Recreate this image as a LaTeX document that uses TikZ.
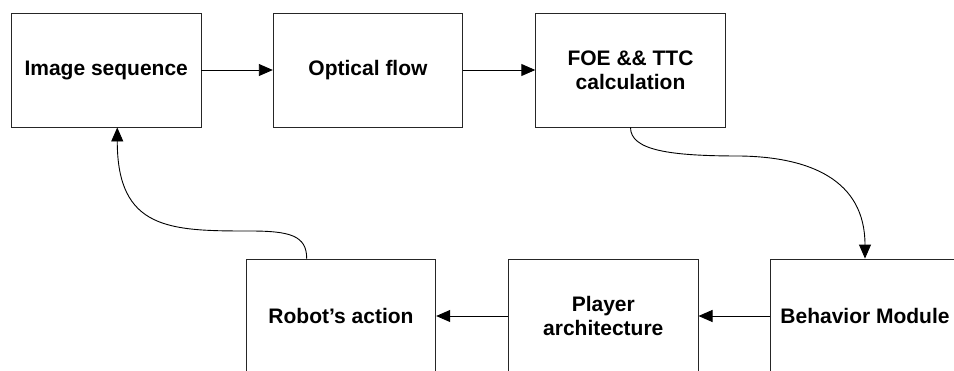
\documentclass[tikz,border=0pt]{standalone}
\usepackage{fontspec}
\setmainfont{Liberation Sans}
\usetikzlibrary{arrows.meta,calc}
\begin{document}
\begin{tikzpicture}[x=1pt,y=-1pt,
  stage/.style={draw=black!85, line width=0.9pt, minimum width=189.5pt,
    minimum height=114pt, inner sep=0pt, align=center,
    font=\fontsize{21}{24}\selectfont\bfseries},
  flow/.style={draw=black, line width=0.9pt,
    -{Triangle[length=14pt,width=12pt]}}]
\useasboundingbox (0,0) rectangle (954,370);
\clip (0,0) rectangle (954,370);

% top row
\node[stage] (img) at (106.25,70) {Image sequence};
\node[stage] (opt) at (368,70) {Optical flow};
\node[stage] (foe) at (630.5,70) {FOE \&\& TTC\\calculation};

% bottom row
\node[stage] (robot) at (341,316) {Robot’s action};
\node[stage] (player) at (603.3,316) {Player\\architecture};
\node[stage] (behav) at (865,316) {Behavior Module};

% straight connectors
\draw[flow] (img) -- (opt);
\draw[flow] (opt) -- (foe);
\draw[flow] (behav) -- (player);
\draw[flow] (player) -- (robot);

% curved connectors
\draw[flow] (foe.south) .. controls +(0,23) and (670,156) .. (740,156)
  .. controls (810,157) and (865,180) .. (behav.north);
\draw[flow] ([xshift=-34.3pt]robot.north) .. controls +(0,-23) and (290,231) .. (250,231)
  .. controls (170,231) and (117.3,230) .. ([xshift=11pt]img.south);
\end{tikzpicture}
\end{document}
